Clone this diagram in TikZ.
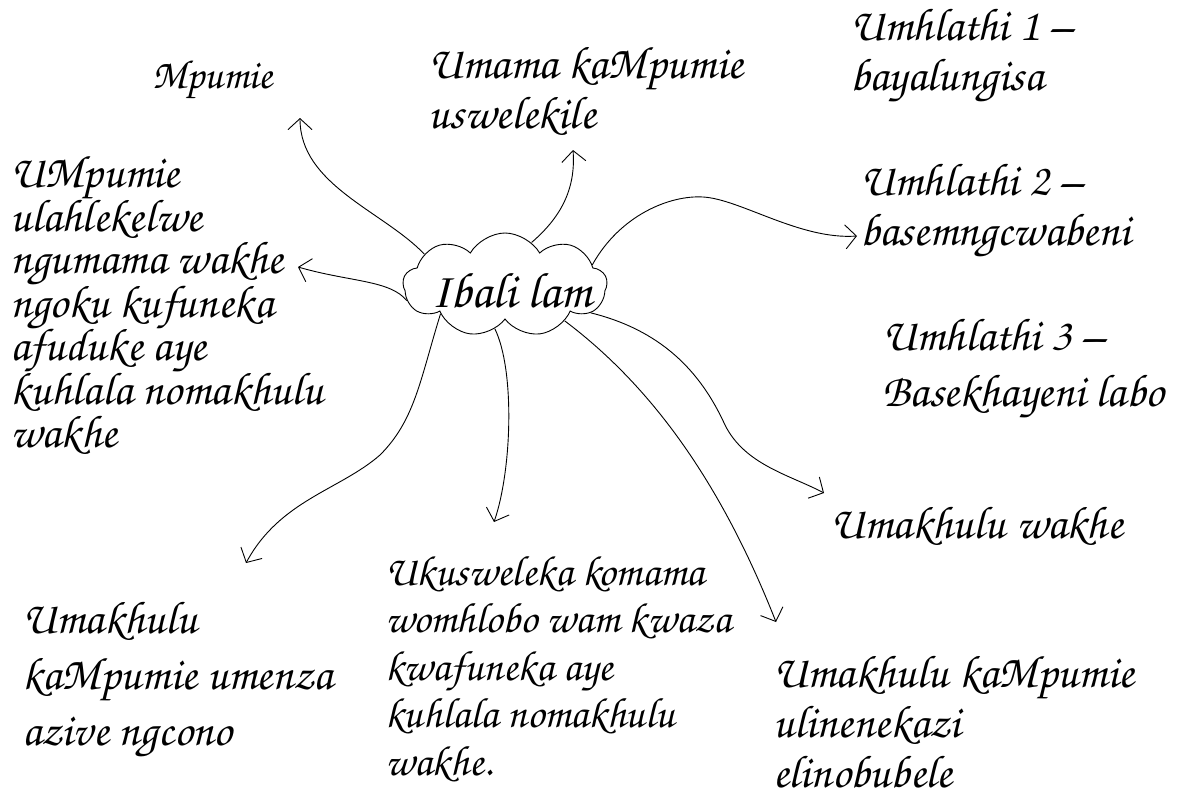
\documentclass[tikz,border=0pt]{standalone}
\usepackage{fontspec}
\newfontfamily\hand{TeX Gyre Chorus}
\usetikzlibrary{shapes.symbols,arrows.meta}
\tikzset{
  txt/.style={anchor=base west, align=left, inner sep=0pt, font=\hand\fontsize{46}{#1}\selectfont},
  txtsmall/.style={anchor=base west, align=left, inner sep=0pt, font=\hand\fontsize{42.5}{#1}\selectfont},
  link/.style={line width=0.9pt, -{Straight Barb[length=11pt,width=24pt,line width=0.9pt]}},
  bubble/.style={cloud, draw, line width=0.9pt, cloud puffs=9, cloud puff arc=120, aspect=2,
    minimum width=204pt, minimum height=104pt, inner sep=0pt}
}
\begin{document}
\begin{tikzpicture}[x=1pt,y=-1pt]
\useasboundingbox (0,0) rectangle (1185,798);
\node[bubble, label={[font=\hand\fontsize{50}{50}\selectfont, xshift=6pt, yshift=-6pt]center:Ibali lam}] (ibali) at (505,285) {};
\node[anchor=base west, inner sep=0pt, font=\hand\fontsize{41}{44}\selectfont] (mpumie) at (152,88) {Mpumie};
\node[txt=50] (umama) at (428,128) {Umama kaMpumie\\uswelekile};
\node[txt=50] (p1) at (850,90) {Umhlathi 1 –\\bayalungisa};
\node[txt=50] (p2) at (860,245) {Umhlathi 2 –\\basemngcwabeni};
\node[txt=56] (p3) at (882,406) {Umhlathi 3 –\\Basekhayeni labo};
\node[txt=42.5] (lahlekelwe) at (10,447) {UMpumie\\ulahlekelwe\\ngumama wakhe\\ngoku kufuneka\\afuduke aye\\kuhlala nomakhulu\\wakhe};
\node[txt=44] (gogo) at (830,538) {Umakhulu wakhe};
\node[txt=56] (ngcono) at (22,745) {Umakhulu\\kaMpumie umenza\\azive ngcono};
\node[txtsmall=47.5] (ukusweleka) at (385,775) {Ukusweleka komama\\womhlobo wam kwaza\\kwafuneka aye\\kuhlala nomakhulu\\wakhe.};
\node[txt=50] (nenekazi) at (773,787) {Umakhulu kaMpumie\\ulinenekazi\\elinobubele};
\coordinate (tMpumie) at (300,118);
\coordinate (tUmama) at (573,150);
\coordinate (tP2) at (857,236);
\coordinate (tLeft) at (298,267);
\coordinate (tNgcono) at (246,563);
\coordinate (tUku) at (494,522);
\coordinate (tGogo) at (824,493);
\coordinate (tNene) at (776,622);
\draw[link] (ibali.159) .. controls (383,211) and (300,185) .. (tMpumie);
\draw[link] (ibali.58) .. controls (560,218) and (576,190) .. (tUmama);
\draw[link] (ibali.13) .. controls (620,215) and (670,195) .. (703,197) .. controls (740,199) and (800,240) .. (tP2);
\draw[link] (ibali.189) .. controls (390,280) and (350,282) .. (tLeft);
\draw[link] (ibali.204) .. controls (420,380) and (415,420) .. (380,455) .. controls (340,490) and (280,500) .. (tNgcono);
\draw[link] (ibali.257) .. controls (515,370) and (512,470) .. (tUku);
\draw[link] (ibali.342) .. controls (660,330) and (700,370) .. (725,425) .. controls (745,465) and (790,475) .. (tGogo);
\draw[link] (ibali.329) .. controls (650,385) and (720,480) .. (tNene);
\end{tikzpicture}
\end{document}
